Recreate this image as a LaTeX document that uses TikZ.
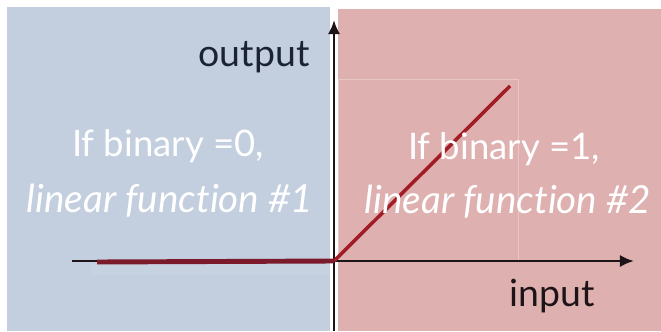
\documentclass[tikz,border=0pt]{standalone}
\usepackage{fontspec}
\setmainfont[Ligatures=NoCommon]{Lato}
\usepackage{xcolor}
\usetikzlibrary{arrows.meta}

\definecolor{leftbg}{HTML}{C3CFDF}
\definecolor{rightbg}{HTML}{DFB0B0}
\definecolor{axisdark}{HTML}{1C1416}
\definecolor{flatred}{HTML}{7B1A2B}
\definecolor{slopered}{HTML}{A11C24}
\definecolor{labeldark}{HTML}{1A2233}

\begin{document}
\begin{tikzpicture}[x=0.02cm, y=-0.02cm,
  casetext/.style={text=white, anchor=base, font=\fontsize{20.8}{24}\selectfont},
  functext/.style={text=white, anchor=base, font=\fontsize{22}{26}\selectfont\itshape},
  axislabel/.style={anchor=base, font=\fontsize{21.3}{25}\selectfont}]
  \useasboundingbox (0,0) rectangle (661,331);

  % Define the two half planes
  \fill[leftbg] (7,7) rectangle (330,331);
  \fill[rightbg] (338,9) rectangle (661,331);
  \draw[white, opacity=0.3, line width=0.3pt] (338,79) rectangle (518,260);
  \fill[white, opacity=0.08] (90,264) rectangle (330,275);

  % Define the axis points
  \coordinate (O) at (334,261);
  \coordinate (xstart) at (72,261);
  \coordinate (xend) at (634,261);
  \coordinate (ybot) at (334,331);
  \coordinate (ytop) at (334,20);
  \coordinate (flatstart) at (97,262);
  \coordinate (slopeend) at (510,86);

  % Draw the axes
  \draw[axisdark, line width=1.6pt, -{Latex[length=8pt,width=7pt]}] (xstart) -- (xend);
  \draw[axisdark, line width=1.6pt, -{Latex[length=8pt,width=7pt]}] (ybot) -- (ytop);

  % Draw the two linear pieces
  \draw[flatred, line width=2.8pt] (flatstart) -- (O);
  \draw[slopered, line width=2pt] (O) -- (slopeend);

  % Axis labels
  \node[axislabel, text=labeldark] (outlabel) at (254,67) {output};
  \node[axislabel, text=axisdark] (inlabel) at (552,306) {input};

  % Case texts
  \node[casetext] (zerocase) at (168,156) {If binary =0,};
  \node[functext] (zerofunc) at (170,212) {linear function \#1};
  \node[casetext] (onecase) at (504,159) {If binary =1,};
  \node[functext] (onefunc) at (508,213) {linear function \#2};
\end{tikzpicture}
\end{document}
